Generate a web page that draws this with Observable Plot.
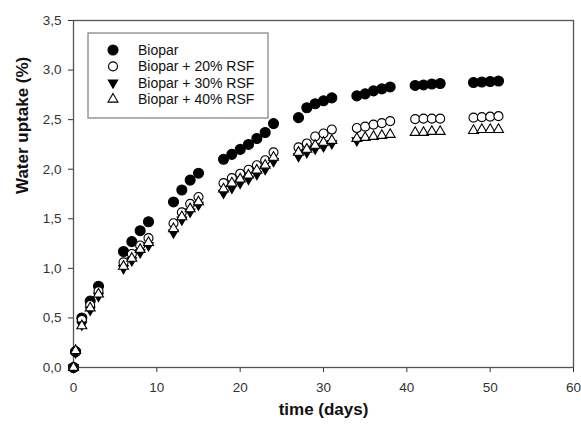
<!DOCTYPE html>
<html><head><meta charset="utf-8">
<script src="https://cdn.jsdelivr.net/npm/d3@7"></script>
<script src="https://cdn.jsdelivr.net/npm/@observablehq/plot@0.6"></script>
<style>body{margin:0;background:#fff;} svg{display:block}</style>
</head><body><div id="chart"></div>
<script>
const days = [0, 0.25, 1, 2, 3, 6, 7, 8, 9, 12, 13, 14, 15, 18, 19, 20, 21, 22, 23, 24, 27, 28, 29, 30, 31, 34, 35, 36, 37, 38, 41, 42, 43, 44, 48, 49, 50, 51];
const biopar = [0, 0.16, 0.50, 0.67, 0.82, 1.17, 1.27, 1.38, 1.47, 1.67, 1.79, 1.89, 1.96, 2.10, 2.15, 2.20, 2.25, 2.31, 2.37, 2.46, 2.52, 2.62, 2.66, 2.69, 2.72, 2.74, 2.76, 2.79, 2.81, 2.83, 2.845, 2.85, 2.86, 2.865, 2.875, 2.88, 2.885, 2.89];
const rsf20 = [0, 0.16, 0.48, 0.63, 0.77, 1.06, 1.145, 1.23, 1.305, 1.455, 1.565, 1.65, 1.72, 1.86, 1.91, 1.955, 1.995, 2.04, 2.09, 2.17, 2.22, 2.26, 2.33, 2.36, 2.40, 2.415, 2.43, 2.45, 2.465, 2.485, 2.505, 2.51, 2.51, 2.51, 2.52, 2.525, 2.53, 2.535];
// values after day 34 are hidden behind the 40% markers in the source and cannot be read
const rsf30 = [0, 0.15, 0.43, 0.58, 0.72, 1.00, 1.08, 1.16, 1.23, 1.36, 1.49, 1.57, 1.64, 1.76, 1.81, 1.86, 1.90, 1.95, 2.00, 2.08, 2.13, 2.17, 2.205, 2.23, 2.26, 2.29, null, null, null, null, null, null, null, null, null, null, null, null];
const rsf40 = [0, 0.17, 0.42, 0.60, 0.74, 1.02, 1.10, 1.19, 1.26, 1.40, 1.52, 1.60, 1.67, 1.80, 1.86, 1.90, 1.94, 1.99, 2.04, 2.12, 2.17, 2.20, 2.24, 2.27, 2.29, 2.31, 2.32, 2.33, 2.34, 2.35, 2.37, 2.37, 2.38, 2.38, 2.39, 2.40, 2.40, 2.40];
const seriesNames = ["Biopar", "Biopar + 20% RSF", "Biopar + 30% RSF", "Biopar + 40% RSF"];
const xTicks = [0, 10, 20, 30, 40, 50, 60];
const yTicks = [0, 0.5, 1, 1.5, 2, 2.5, 3, 3.5];
const xLabel = "time (days)";
const yLabel = "Water uptake (%)";

const triangleDown = {
  draw(context, size) {
    const y = -Math.sqrt(size / (Math.sqrt(3) * 3));
    context.moveTo(0, -y * 2);
    context.lineTo(-Math.sqrt(3) * y, y);
    context.lineTo(Math.sqrt(3) * y, y);
    context.closePath();
  }
};

const styles = [
  {values: biopar, symbol: d3.symbolCircle, fill: "black", r: 5},
  {values: rsf20, symbol: d3.symbolCircle, fill: "white", r: 4.5},
  {values: rsf30, symbol: triangleDown, fill: "black", r: 3.5},
  {values: rsf40, symbol: d3.symbolTriangle, fill: "white", r: 3.7}
];

const W = 581, H = 424, mL = 73, mR = 8, mT = 20, mB = 57;

const svg = Plot.plot({
  width: W, height: H,
  marginLeft: mL, marginRight: mR, marginTop: mT, marginBottom: mB,
  style: {fontFamily: "'Liberation Sans', Arial, sans-serif", fontSize: "13.5px", color: "#333", background: "white"},
  x: {domain: [0, 60], ticks: xTicks, tickSize: 5, tickPadding: 10, tickFormat: d => String(d), label: null},
  y: {domain: [0, 3.5], ticks: yTicks, tickSize: 5, tickPadding: 7, tickFormat: d => d.toFixed(1).replace(".", ","), label: null},
  marks: [
    Plot.frame({stroke: "#555", strokeWidth: 1.3}),
    ...styles.map(s => Plot.dot(days, {
      x: d => d, y: (d, i) => s.values[i],
      symbol: () => s.symbol, r: s.r, fill: s.fill, stroke: "black", strokeWidth: 1.1
    })),
    Plot.text([xLabel], {text: d => d, frameAnchor: "bottom", dy: 47, fontWeight: "bold", fontSize: 17, fill: "#111"}),
    Plot.text([yLabel], {text: d => d, frameAnchor: "left", dx: -51, rotate: -90, fontWeight: "bold", fontSize: 17, fill: "#111"})
  ]
});

// legend inside the frame
const g = d3.select(svg).append("g").attr("transform", `translate(${mL + 15},${mT + 13})`);
g.append("rect").attr("x", 0).attr("y", 0).attr("width", 180).attr("height", 85)
  .attr("fill", "white").attr("stroke", "#888").attr("stroke-width", 1.3);
seriesNames.forEach((name, i) => {
  const s = styles[i];
  const cy = 17 + i * 16.4;
  g.append("path").attr("transform", `translate(25,${cy})`)
    .attr("d", d3.symbol(s.symbol, s.r * s.r * Math.PI)())
    .attr("fill", s.fill).attr("stroke", "black").attr("stroke-width", 1.1);
  g.append("text").attr("x", 50).attr("y", cy).attr("dy", "0.35em")
    .attr("text-anchor", "start")
    .attr("font-size", 14).attr("fill", "#111").text(name);
});

document.getElementById("chart").appendChild(svg);
</script>
</body></html>
